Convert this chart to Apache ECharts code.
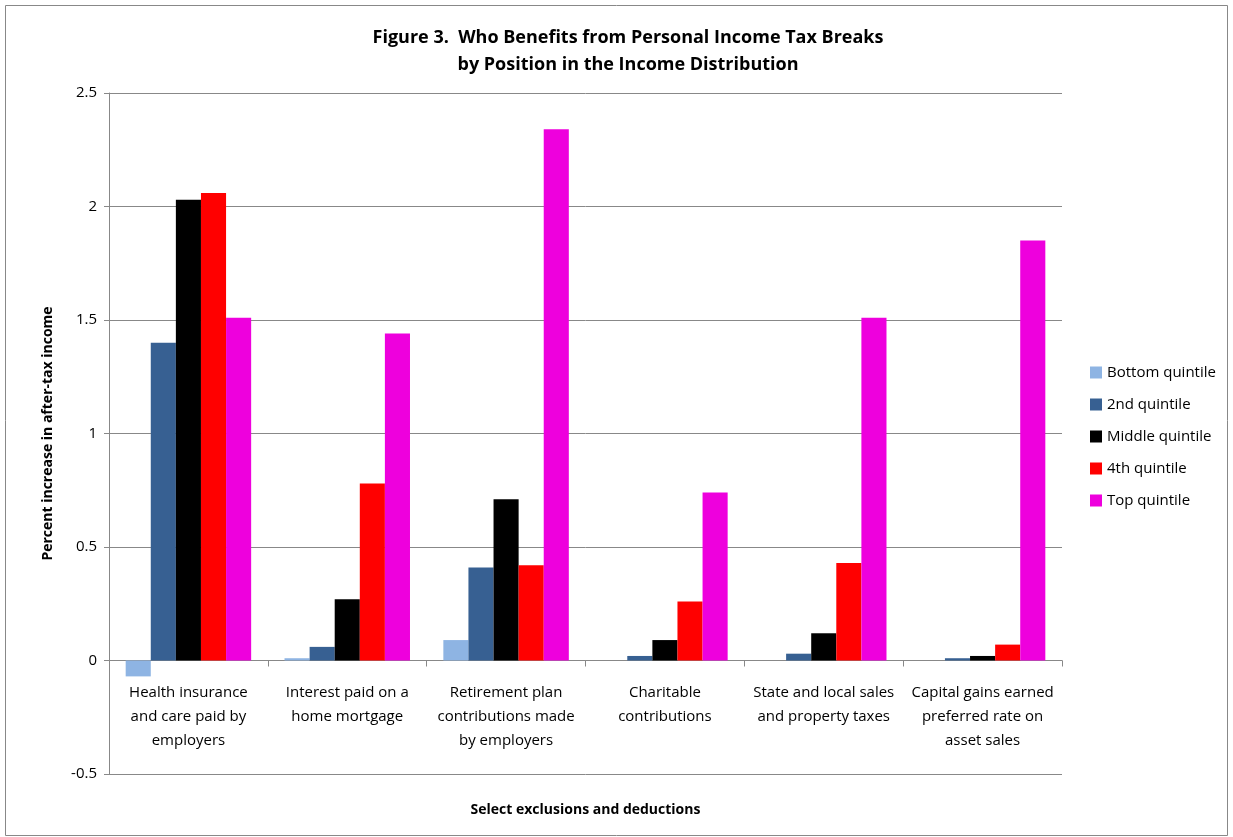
<!DOCTYPE html>
<html>
<head>
<meta charset="utf-8">
<script src="https://cdn.jsdelivr.net/npm/echarts@6/dist/echarts.min.js"></script>
<style>
  html, body { margin: 0; padding: 0; background: #fff; }
  #chart { width: 1233px; height: 837px; }
</style>
</head>
<body>
<div id="chart"></div>
<script>
// Tax break categories (x axis)
const categories = [
  'Health insurance\nand care paid by\nemployers',
  'Interest paid on a\nhome mortgage',
  'Retirement plan\ncontributions made\nby employers',
  'Charitable\ncontributions',
  'State and local sales\nand property taxes',
  'Capital gains earned\npreferred rate on\nasset sales'
];

// Percent increase in after-tax income, by income quintile
const bottomQuintile = [-0.07, 0.01, 0.09, 0.00, 0.00, 0.00];
const secondQuintile = [1.40, 0.06, 0.41, 0.02, 0.03, 0.01];
const middleQuintile = [2.03, 0.27, 0.71, 0.09, 0.12, 0.02];
const fourthQuintile = [2.06, 0.78, 0.42, 0.26, 0.43, 0.07];
const topQuintile    = [1.51, 1.44, 2.34, 0.74, 1.51, 1.85];

const seriesNames = ['Bottom quintile', '2nd quintile', 'Middle quintile', '4th quintile', 'Top quintile'];
const seriesColors = ['#8EB4E3', '#376092', '#000000', '#FF0000', '#EE00DD'];
const seriesData = [bottomQuintile, secondQuintile, middleQuintile, fourthQuintile, topQuintile];

const font = 'Open Sans, Noto Sans, sans-serif';

const chart = echarts.init(document.getElementById('chart'));
chart.setOption({
  backgroundColor: '#fff',
  animation: false,
  title: {
    text: 'Figure 3.  Who Benefits from Personal Income Tax Breaks\nby Position in the Income Distribution',
    left: 623,
    textAlign: 'center',
    top: 19,
    textStyle: { fontFamily: font, fontSize: 18, fontWeight: 'bold', color: '#000', lineHeight: 27 }
  },
  legend: {
    orient: 'vertical',
    left: 1085,
    top: 360,
    itemWidth: 12,
    itemHeight: 12,
    itemGap: 17,
    icon: 'rect',
    textStyle: { fontFamily: font, fontSize: 15, color: '#000' },
    data: seriesNames
  },
  grid: { left: 109, right: 171, top: 93, bottom: 63, outerBoundsMode: 'none', containLabel: false },
  xAxis: {
    type: 'category',
    data: categories,
    name: 'Select exclusions and deductions',
    nameLocation: 'middle',
    nameGap: 29,
    nameTextStyle: { fontFamily: font, fontSize: 14, fontWeight: 'bold', color: '#000' },
    axisLine: { onZero: true, lineStyle: { color: '#888', width: 1 } },
    axisTick: { show: true, length: 6, lineStyle: { color: '#888' } },
    axisLabel: { fontFamily: font, fontSize: 15, color: '#000', lineHeight: 24, margin: -93, interval: 0 }
  },
  yAxis: {
    type: 'value',
    min: -0.5,
    max: 2.5,
    interval: 0.5,
    name: 'Percent increase in after-tax income',
    nameLocation: 'middle',
    nameGap: 54,
    nameTextStyle: { fontFamily: font, fontSize: 14, fontWeight: 'bold', color: '#000' },
    axisLine: { show: true, lineStyle: { color: '#888' } },
    axisTick: { show: true, length: 5, lineStyle: { color: '#888' } },
    splitLine: { lineStyle: { color: '#888', width: 1 } },
    axisLabel: {
      fontFamily: font, fontSize: 15, color: '#000', margin: 12,
      formatter: v => String(Math.round(v * 10) / 10)
    }
  },
  graphic: [{
    type: 'rect',
    shape: { x: 5.5, y: 5.5, width: 1222, height: 830 },
    style: { fill: 'none', stroke: '#888', lineWidth: 1 },
    silent: true,
    z: -1
  }],
  series: seriesData.map((d, i) => ({
    name: seriesNames[i],
    type: 'bar',
    data: d,
    barGap: '0%',
    barCategoryGap: '21%',
    itemStyle: { color: seriesColors[i] }
  }))
});
</script>
</body>
</html>
